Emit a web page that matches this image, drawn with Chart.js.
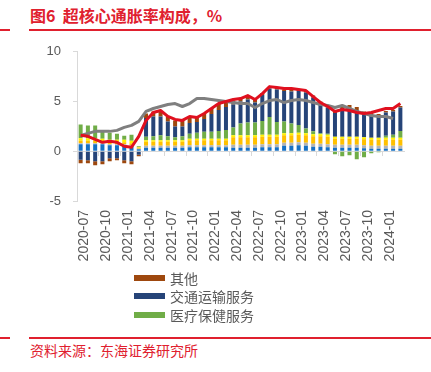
<!DOCTYPE html>
<html>
<head>
<meta charset="utf-8">
<script src="https://cdn.jsdelivr.net/npm/chart.js@4/dist/chart.umd.min.js"></script>
<style>
  html, body { margin: 0; padding: 0; background: #fff; }
  body { width: 431px; height: 372px; position: relative; overflow: hidden; font-family: "Noto Sans CJK SC", "Liberation Sans", sans-serif; }
  .title { position: absolute; left: 30px; top: 5px; font-size: 16px; font-weight: bold; color: #E0202E; white-space: pre; line-height: 20px; }
  .rule { position: absolute; height: 2px; background: #E0202E; }
  #chart-wrap { position: absolute; left: 0; top: 32px; width: 431px; height: 238px; }
  #legend { position: absolute; left: 134px; top: 269px; height: 56px; overflow: hidden; }
  .leg-row { display: flex; align-items: center; height: 18.3px; font-size: 14px; color: #595959; }
  .leg-box { width: 31px; height: 6px; margin-right: 5px; }
  .source { position: absolute; left: 30px; top: 340px; font-size: 14px; color: #E0202E; line-height: 20px; }
</style>
</head>
<body>
<div class="title">图6  超核心通胀率构成，%</div>
<div class="rule" style="left:0;width:10px;top:29px"></div>
<div class="rule" style="left:29px;width:402px;top:29px"></div>
<div id="chart-wrap"><canvas id="chart" width="431" height="238"></canvas></div>
<div id="legend"></div>
<div class="rule" style="left:0;width:10px;top:337px;height:1.5px"></div>
<div class="rule" style="left:29px;width:402px;top:337px;height:1.5px"></div>
<div class="source">资料来源：东海证券研究所</div>
<script>
const months = [
  '2020-07', '2020-08', '2020-09', '2020-10', '2020-11', '2020-12',
  '2021-01', '2021-02', '2021-03', '2021-04', '2021-05', '2021-06',
  '2021-07', '2021-08', '2021-09', '2021-10', '2021-11', '2021-12',
  '2022-01', '2022-02', '2022-03', '2022-04', '2022-05', '2022-06',
  '2022-07', '2022-08', '2022-09', '2022-10', '2022-11', '2022-12',
  '2023-01', '2023-02', '2023-03', '2023-04', '2023-05', '2023-06',
  '2023-07', '2023-08', '2023-09', '2023-10', '2023-11', '2023-12',
  '2024-01', '2024-02', '2024-03'
];

// stacked contributions, bottom to top
const housing = [0.7, 0.7, 0.7, 0.7, 0.6, 0.6, 0.6, 0.5, 0.2, 0.35, 0.35, 0.35, 0.35, 0.35, 0.35, 0.4, 0.4, 0.4, 0.4, 0.4, 0.4, 0.35, 0.35, 0.35, 0.35, 0.4, 0.4, 0.4, 0.55, 0.55, 0.6, 0.55, 0.45, 0.45, 0.4, 0.35, 0.35, 0.35, 0.35, 0.3, 0.25, 0.25, 0.25, 0.25, 0.25];
const household = [0.1, 0.1, 0.1, 0.1, 0.1, 0.1, 0.1, 0.1, 0.05, 0.2, 0.2, 0.2, 0.2, 0.2, 0.2, 0.2, 0.2, 0.2, 0.2, 0.2, 0.2, 0.3, 0.3, 0.3, 0.3, 0.3, 0.3, 0.3, 0.3, 0.3, 0.3, 0.3, 0.3, 0.3, 0.3, 0.3, 0.3, 0.3, 0.3, 0.3, 0.3, 0.3, 0.3, 0.3, 0.3];
const culture = [0.25, 0.25, 0.25, 0.2, 0.2, 0.2, 0.2, 0.2, 0.1, 0.4, 0.4, 0.4, 0.4, 0.4, 0.4, 0.5, 0.5, 0.5, 0.5, 0.5, 0.5, 0.75, 0.75, 0.75, 0.75, 0.75, 0.75, 0.75, 0.75, 0.75, 0.75, 0.75, 0.75, 0.75, 0.75, 0.6, 0.6, 0.6, 0.6, 0.6, 0.6, 0.6, 0.6, 0.6, 0.6];
const education = [0.25, 0.25, 0.25, 0.25, 0.25, 0.25, 0.25, 0.25, 0.05, 0.15, 0.15, 0.15, 0.15, 0.15, 0.15, 0.15, 0.15, 0.15, 0.15, 0.15, 0.15, 0.2, 0.2, 0.2, 0.2, 0.2, 0.2, 0.2, 0.2, 0.2, 0.2, 0.2, 0.2, 0.2, 0.2, 0.2, 0.2, 0.2, 0.2, 0.2, 0.2, 0.2, 0.2, 0.2, 0.2];
const medical = [1.4, 1.3, 1.3, 0.9, 0.7, 0.6, 0.4, 0.6, 0.1, 0.35, 0.4, 0.5, 0.4, 0.3, 0.4, 0.5, 0.6, 0.7, 0.7, 0.8, 0.9, 0.8, 1.2, 1.3, 1.3, 1.4, 1.8, 1.3, 1.2, 1.0, 0.8, 0.5, 0.3, 0.1, 0.1, -0.3, -0.5, -0.4, -0.8, -0.6, -0.2, -0.1, 0.2, 0.3, 0.7];
const transport = [-0.85, -0.9, -1.0, -1.0, -0.7, -0.7, -0.9, -1.0, -0.35, 1.9, 2.0, 1.9, 1.5, 1.1, 1.0, 1.1, 1.1, 1.3, 1.8, 2.1, 2.3, 2.3, 2.2, 2.3, 2.0, 2.6, 2.85, 3.25, 3.05, 3.2, 3.4, 3.6, 3.4, 3.0, 2.65, 2.4, 2.9, 2.9, 2.7, 2.35, 2.3, 2.2, 2.35, 2.35, 2.35];
const other = [-0.35, -0.3, -0.4, -0.3, -0.3, -0.2, -0.3, -0.3, -0.15, 0.45, 0.5, 0.5, 0.5, 0.6, 0.6, 0.6, 0.6, 0.6, 0.6, 0.6, 0.5, 0.4, 0.3, 0.3, 0.3, 0.2, 0.15, 0.15, 0.15, 0.2, 0.2, 0.2, 0.2, 0.2, 0.25, 0.3, 0.3, 0.3, 0.3, 0.25, 0.2, 0.2, 0.15, 0.15, 0.15];

// lines
const superCore = [1.6, 1.5, 1.2, 0.9, 1.0, 0.9, 0.5, 0.4, 1.5, 3.1, 3.9, 4.1, 3.5, 3.2, 3.1, 3.5, 3.4, 3.8, 4.3, 4.8, 5.0, 5.2, 5.3, 5.6, 5.2, 5.8, 6.5, 6.4, 6.3, 6.3, 6.2, 6.1, 5.5, 4.9, 4.5, 4.0, 4.2, 4.1, 3.9, 3.8, 3.9, 4.1, 4.3, 4.3, 4.8];
const coreServices = [1.6, 1.8, 2.0, 2.0, 2.0, 2.1, 2.4, 2.6, 3.0, 4.0, 4.3, 4.5, 4.7, 4.8, 4.5, 4.8, 5.3, 5.3, 5.2, 5.1, 5.0, 4.9, 4.8, 4.8, 4.4, 4.8, 5.1, 5.2, 4.9, 5.1, 5.2, 5.1, 4.9, 4.7, 4.6, 4.4, 4.6, 4.3, 4.0, 3.8, 3.6, 3.5, 3.5, 3.3, null];

const yTicks = [-5, 0, 5, 10];

const bar = (label, data, color) => ({
  type: 'bar', label, data, backgroundColor: color, stack: 'parts',
  barPercentage: 0.55, categoryPercentage: 1, order: 2
});
const line = (label, data, color, order) => ({
  type: 'line', label, data, borderColor: color, backgroundColor: color, stack: label,
  borderWidth: 3, pointRadius: 0, tension: 0, fill: false, order, borderJoinStyle: 'round'
});

const datasets = [
  bar('租赁房房租', housing, '#1570C4'),
  bar('家庭服务', household, '#B4B4B4'),
  bar('文化娱乐', culture, '#FFC000'),
  bar('教育服务', education, '#FFF200'),
  bar('医疗保健服务', medical, '#70AD47'),
  bar('交通运输服务', transport, '#264478'),
  bar('其他', other, '#9E480E'),
  line('超核心通胀率', superCore, '#E0101F', 0),
  line('核心服务', coreServices, '#7F7F7F', 1)
];

const fontNum = 'Liberation Sans';

new Chart(document.getElementById('chart').getContext('2d'), {
  data: { labels: months, datasets },
  options: {
    responsive: false,
    animation: false,
    layout: { padding: { top: 17, right: 27, left: 0, bottom: 0 } },
    plugins: { legend: { display: false }, tooltip: { enabled: false } },
    scales: {
      x: {
        stacked: true,
        grid: { display: false, drawTicks: false },
        border: { display: false },
        ticks: {
          autoSkip: false, maxRotation: 90, minRotation: 90, padding: 9, labelOffset: 4,
          color: '#595959', font: { family: fontNum, size: 14 },
          callback: (v, i) => i % 3 === 0 ? months[i] : ''
        },
        afterFit: s => { s.height = 69; }
      },
      x0: {
        type: 'category',
        position: { y: 0 },
        offset: true,
        grid: {
          offset: true, drawOnChartArea: false, tickLength: 4,
          color: c => c.index % 3 === 0 ? '#D9D9D9' : 'rgba(0,0,0,0)'
        },
        border: { color: '#D9D9D9' },
        ticks: { display: false }
      },
      y: {
        stacked: true,
        min: -5, max: 10,
        afterBuildTicks: s => { s.ticks = yTicks.map(v => ({ value: v })); },
        ticks: { color: '#595959', font: { family: fontNum, size: 13 }, padding: 12 },
        grid: { drawOnChartArea: false, tickLength: 4, color: '#D9D9D9' },
        border: { color: '#D9D9D9' },
        afterFit: s => { s.width = 77; }
      }
    }
  }
});

// legend in reverse stack order, like the source; box is cropped after 3 rows
const legendEl = document.getElementById('legend');
legendEl.innerHTML = datasets.filter(d => d.type === 'bar').reverse().concat(datasets.filter(d => d.type === 'line')).map(d => `
  <div class="leg-row"><span class="leg-box" style="background:${d.type === 'bar' ? d.backgroundColor : d.borderColor}"></span>${d.label}</div>
`).join('');
</script>
</body>
</html>
